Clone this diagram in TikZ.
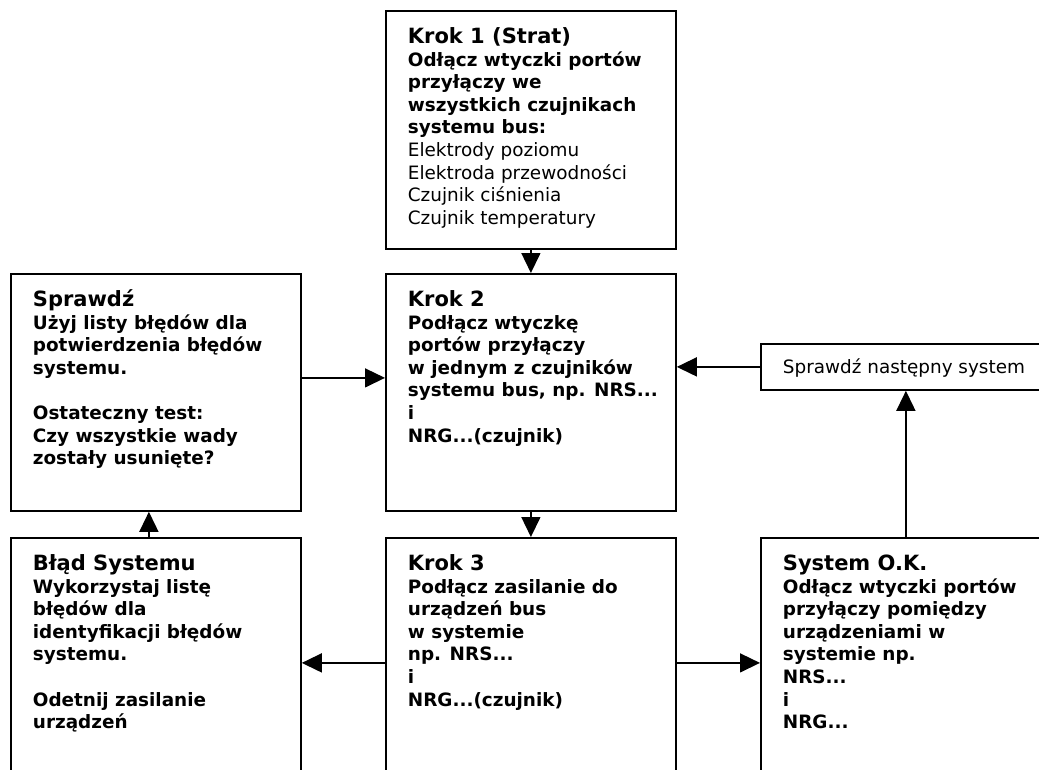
\documentclass[tikz,border=0pt]{standalone}
\usepackage{fontspec}
\setmainfont{DejaVu Sans}
\usepackage{tikz}
\usetikzlibrary{positioning}
\usetikzlibrary{arrows.meta}
\newcommand{\boxtext}[2]{\parbox[t][#1][t]{290pt}{\leftskip=22pt\fontsize{18.4pt}{22.6pt}\selectfont\bfseries\rule{0pt}{32.5pt}#2}}
\newcommand{\krokhead}[1]{{\fontsize{21pt}{22.6pt}\selectfont #1}}

\begin{document}
\begin{tikzpicture}[x=1pt, y=-1pt]
% Define styles
\tikzstyle{krok} = [draw, line width=1.8pt, rectangle, anchor=north west, inner sep=0pt, fill=white]
\tikzstyle{arr} = [-{Triangle[length=20pt, width=19pt]}, line width=1.5pt]
\useasboundingbox (0,0) rectangle (1039,769);
\clip (0,0) rectangle (1039,769);
% Define nodes
\node[krok] (krok1) at (385,10) {\boxtext{238pt}{\krokhead{Krok 1 (Strat)}\\
  Odłącz wtyczki portów\\ przyłączy we\\ wszystkich czujnikach\\ systemu bus:\\
  \mdseries Elektrody poziomu\\ Elektroda przewodności\\ Czujnik ciśnienia\\ Czujnik temperatury}};
\node[krok] (krok2) at (385,273) {\boxtext{237pt}{\krokhead{Krok 2}\\
  Podłącz wtyczkę\\ portów przyłączy\\ w jednym z czujników\\ systemu bus, np. NRS...\\ i\\ NRG...(czujnik)}};
\node[krok] (sprawdz) at (10,273) {\boxtext{237pt}{\krokhead{Sprawdź}\\
  Użyj listy błędów dla\\ potwierdzenia błędów\\ systemu.\\[22.6pt] Ostateczny test:\\ Czy wszystkie wady\\ zostały usunięte?}};
\node[krok] (blad) at (10,537) {\boxtext{300pt}{\krokhead{Błąd Systemu}\\
  Wykorzystaj listę\\ błędów dla\\ identyfikacji błędów\\ systemu.\\[22.6pt] Odetnij zasilanie\\ urządzeń}};
\node[krok] (krok3) at (385,537) {\boxtext{300pt}{\krokhead{Krok 3}\\
  Podłącz zasilanie do\\ urządzeń bus\\ w systemie\\ np. NRS...\\ i\\ NRG...(czujnik)}};
\node[krok] (sysok) at (760,537) {\boxtext{300pt}{\krokhead{System O.K.}\\
  Odłącz wtyczki portów\\ przyłączy pomiędzy\\ urządzeniami w\\ systemie np.\\ NRS...\\ i\\ NRG...}};
\node[krok] (nastepny) at (760,343) {\parbox[t][46pt][t]{290pt}{\leftskip=22pt\fontsize{18.4pt}{22.6pt}\selectfont\rule{0pt}{30pt}Sprawdź następny system}};
% Connect the nodes
\draw[arr] (krok1.south) -- (krok2.north);
\draw[arr] (krok2.south) -- (krok3.north);
\draw[arr] ([yshift=14.5pt]sprawdz.east) -- ([yshift=14.5pt]krok2.west);
\draw[arr] (nastepny.west) -- (nastepny.west -| krok2.east);
\draw[arr] (sysok.north -| nastepny.south) -- (nastepny.south);
\draw[arr] ([yshift=25pt]krok3.west) -- ([yshift=25pt]blad.east);
\draw[arr] ([yshift=25pt]krok3.east) -- ([yshift=25pt]sysok.west);
\draw[arr] ([xshift=-7pt]blad.north) -- ([xshift=-7pt]sprawdz.south);
\end{tikzpicture}
\end{document}
